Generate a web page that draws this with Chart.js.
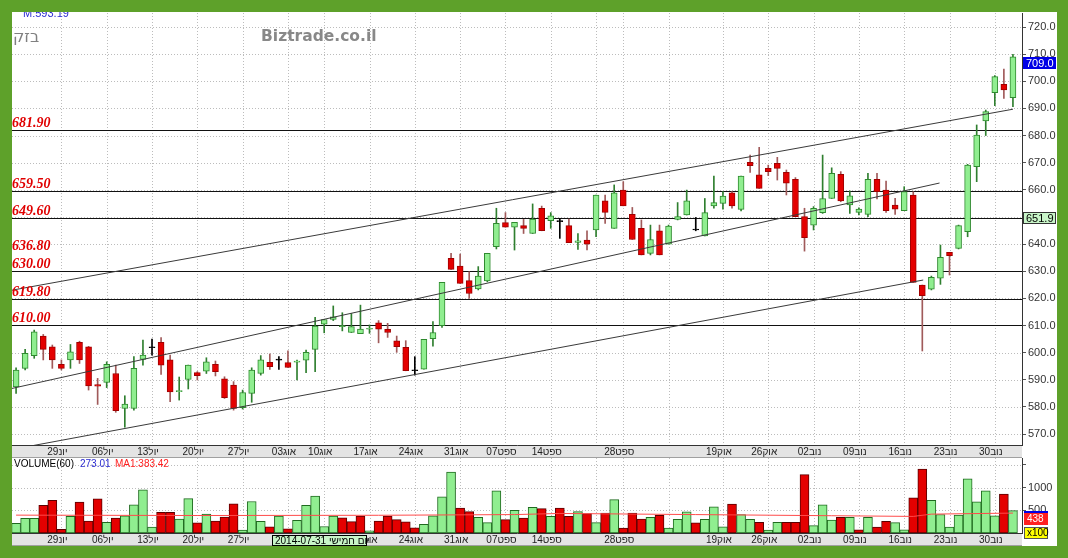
<!DOCTYPE html>
<html><head><meta charset="utf-8">
<script src="https://cdn.jsdelivr.net/npm/chart.js@4.4.1/dist/chart.umd.min.js"></script>
<style>
html,body{margin:0;padding:0;background:#5ea12a;width:1068px;height:558px;overflow:hidden}
#wrap{position:absolute;left:12px;top:12px;width:1045px;height:534px;background:#fff;overflow:hidden}
#pc{position:absolute;left:0;top:0}
#vc{position:absolute;left:0;top:446px}
</style></head><body>
<div id="wrap"><canvas id="pc" width="1045" height="446"></canvas><canvas id="vc" width="1045" height="88"></canvas></div>
<script>
const openP = [587.4,594.2,598.9,606.1,602.1,595.7,597.3,603.8,602.1,588.2,
589.0,592.3,579.4,579.4,597.5,601.8,603.8,597.3,585.6,590.1,
592.6,593.2,595.7,590.3,588.0,579.7,585.0,592.3,596.4,597.25,
596.3,596.5,597.25,601.2,610.5,612.2,609.6,607.4,607.0,608.6,
611.0,608.6,604.3,601.9,593.3,593.9,605.1,609.9,634.7,631.9,
626.5,623.5,626.4,639.0,647.9,646.2,646.8,643.9,653.2,648.6,
648.25,646.8,640.6,641.5,645.2,655.9,645.8,659.9,650.95,645.8,
636.6,644.9,640.0,649.1,650.7,645.2,643.0,654.1,655.0,658.9,
652.8,670.1,665.5,667.9,669.75,666.4,663.85,650.1,647.0,651.6,
656.8,665.7,654.4,651.7,650.95,663.85,659.9,654.4,652.3,658.1,
624.9,623.4,627.4,636.95,638.4,644.6,668.5,685.4,695.8,698.9,
693.96];
const highP = [594.4,601.2,608.3,606.7,602.8,597.3,603.0,604.2,602.3,590.5,
596.6,595.4,584.1,598.5,604.6,605.0,605.5,599.1,591.0,595.4,
593.0,598.1,596.9,591.1,589.3,586.2,594.4,598.9,599.5,598.5,
600.7,597.25,600.9,613.0,612.2,617.2,614.7,614.4,617.5,610.2,
611.8,610.8,606.1,604.4,598.5,604.9,611.4,625.9,636.6,636.3,
629.8,631.7,636.6,653.2,651.6,648.0,649.1,654.8,654.0,651.6,
649.5,649.2,643.9,644.9,658.1,658.1,661.8,663.0,653.5,648.9,
647.0,647.0,647.0,655.3,659.9,649.8,656.8,665.1,659.3,659.3,
665.1,672.8,675.65,669.1,671.97,667.3,664.5,653.2,653.8,672.8,
668.1,666.7,659.6,653.4,666.1,666.1,663.2,656.9,661.15,659.3,
624.9,628.2,639.65,636.95,647.0,669.4,683.9,689.4,702.1,704.5,
709.9];
const lowP = [585.0,593.6,597.9,597.3,594.2,593.6,594.2,596.0,586.2,580.9,
587.1,578.0,572.5,578.8,595.4,599.1,592.0,581.9,582.5,586.6,
589.9,592.3,591.4,583.1,578.8,579.2,581.7,591.7,593.8,593.8,
594.5,589.9,592.6,593.0,607.3,611.8,608.0,607.4,607.0,607.1,
603.6,605.6,600.1,593.3,591.7,593.9,602.4,609.3,630.7,625.5,
620.0,623.1,626.1,638.2,646.2,637.8,643.9,643.9,644.9,645.8,
642.1,640.5,638.0,637.8,642.7,647.6,645.8,654.1,641.7,636.0,
636.0,636.0,640.0,648.9,650.7,644.9,643.0,653.2,652.9,653.2,
652.2,666.4,660.5,665.2,663.6,658.1,650.1,637.4,645.2,651.3,
656.8,655.6,651.3,650.7,650.1,656.6,651.7,650.95,652.3,625.9,
600.6,623.1,625.15,628.6,638.2,642.7,663.0,680.0,691.0,693.7,
690.6];
const closeP = [593.6,599.7,607.7,601.2,597.3,594.2,600.3,597.3,587.7,587.6,
595.7,578.6,581.0,594.2,599.1,601.8,595.4,585.5,586.0,595.4,
591.5,596.6,593.0,583.4,579.4,585.3,593.6,597.3,594.8,597.25,
594.5,596.9,600.1,609.8,612.2,613.2,610.0,609.6,608.7,608.9,
608.6,607.4,602.2,593.3,593.3,604.9,607.4,625.9,630.7,625.5,
621.8,628.2,636.6,647.6,646.2,648.0,645.8,649.2,644.9,650.4,
648.25,640.5,641.2,640.0,658.1,651.7,658.9,654.1,641.7,636.0,
641.7,636.0,646.6,650.1,655.9,645.2,651.6,655.3,657.7,654.1,
665.1,668.9,660.5,666.7,667.9,662.4,650.1,642.35,653.2,656.8,
666.1,655.9,657.8,652.9,663.85,659.3,652.3,652.9,659.3,625.9,
620.97,627.7,635.1,635.7,646.8,669.1,680.2,688.8,701.7,696.8,
709.0];
const volumes = [214,321,321,607,721,79,364,678,264,750,
236,328,378,621,950,129,457,457,307,757,
221,414,264,350,643,64,693,257,136,371,
93,278,607,814,143,371,336,250,371,50,
264,371,293,243,114,193,378,793,1342,550,
471,343,228,928,293,500,328,564,536,364,
550,364,471,428,228,436,735,107,436,307,
343,386,107,300,464,221,300,578,136,635,
407,300,236,64,236,236,236,1285,164,621,
286,343,343,71,343,129,257,228,71,771,
1407,721,407,129,393,1192,685,928,378,857,
493];
const maIdx = [0, 20, 40, 55, 60, 75, 90, 99, 101, 110];
const maVal = [393, 385, 390, 405, 430, 405, 380, 365, 415, 438];
const tickIdx = [5,10,15,20,25,30,34,39,44,49,54,59,64,67,72,78,83,88,93,98,103,108];
const tickText = ['29יונ','06יול','13יול','20יול','27יול','03אוג','10אוג','17אוג','24אוג','31אוג','07ספט','14ספט','','28ספט','','19אוק','26אוק','02נוב','09נוב','16נוב','23נוב','30נוב'];
const levelLines = [681.9, 659.5, 649.6, 630.0, 619.8, 610.0];
const levelTags = [681.9, 659.5, 649.6, 636.8, 630.0, 619.8, 610.0];
const trendUpper = [[-0.45, 623.0], [110.0, 689.7]];
const trendMiddle = [[-0.45, 586.8], [101.9, 662.5]];
const trendLower = [[-0.45, 564.3], [100.1, 626.75]];
const lastPrice = 709.0, crossPrice = 651.9;
const lastVolume = 493, lastMA = 438;
const volTitle = 'VOLUME(60)', volCur = '273.01', volMA = 'MA1:383.42';
const crossDate = '2014-07-31 יום חמישי';
const stockName = 'בזק', siteName = 'Biztrade.co.il', mText = 'M:593.19';

const idx = openP.map((_, i) => i);
const dir = i => closeP[i] > openP[i] ? 1 : (closeP[i] < openP[i] ? -1 : 0);
const bodyFill = idx.map(i => dir(i) > 0 ? '#90ee90' : dir(i) < 0 ? '#e40000' : '#000000');
const bodyBorder = idx.map(i => dir(i) > 0 ? '#2f8a2f' : dir(i) < 0 ? '#a00000' : '#000000');
const wickCol = idx.map(i => dir(i) > 0 ? '#2f7f2f' : dir(i) < 0 ? '#a05a5a' : '#000000');
const volUp = idx.map(i => i === 0 || closeP[i] > closeP[i - 1]);

const xMin = -0.45, xMax = 111.0;
function xScaleOpts() {
  return {
    type: 'linear', min: xMin, max: xMax, offset: false,
    afterBuildTicks: s => { s.ticks = tickIdx.map(v => ({ value: v })); },
    afterFit: s => { s.height = 13; s.paddingLeft = 0; s.paddingRight = 0; },
    grid: { display: false, drawTicks: false, offset: false },
    border: { display: true, color: '#333', width: 1 },
    ticks: {
      autoSkip: false, maxRotation: 0, minRotation: 0, padding: 1, labelOffset: -4,
      font: { family: 'Liberation Sans', size: 10 }, color: '#222',
      callback: v => { const k = tickIdx.indexOf(v); return k >= 0 ? tickText[k] : ''; }
    }
  };
}
function drawStrip(chart) {
  const { ctx, chartArea: a } = chart;
  ctx.save();
  ctx.fillStyle = '#e4e4e4';
  ctx.fillRect(a.left, a.bottom, a.right - a.left, 13);
  ctx.strokeStyle = '#a0a0a0'; ctx.lineWidth = 1;
  ctx.beginPath(); ctx.moveTo(a.left, a.bottom + 12.5); ctx.lineTo(a.right, a.bottom + 12.5); ctx.stroke();
  ctx.restore();
}
function drawGrid(chart, yVals) {
  const { ctx, chartArea: a, scales: { x, y } } = chart;
  ctx.save();
  ctx.strokeStyle = '#bcbcbc'; ctx.lineWidth = 1; ctx.setLineDash([1, 2]);
  ctx.beginPath();
  yVals.forEach(v => { const p = Math.round(y.getPixelForValue(v)) + 0.5; ctx.moveTo(a.left, p); ctx.lineTo(a.right, p); });
  tickIdx.forEach(v => { const p = Math.round(x.getPixelForValue(v)) + 0.5; ctx.moveTo(p, a.top); ctx.lineTo(p, a.bottom); });
  ctx.stroke(); ctx.restore();
}
function box(ctx, x, y, w, h, fill, stroke, text, tcol, font) {
  ctx.fillStyle = fill; ctx.fillRect(x, y, w, h);
  if (stroke) { ctx.strokeStyle = stroke; ctx.lineWidth = 1; ctx.strokeRect(x + 0.5, y + 0.5, w - 1, h - 1); }
  ctx.fillStyle = tcol; ctx.font = font; ctx.textBaseline = 'middle'; ctx.textAlign = 'left';
  ctx.fillText(text, x + 3, y + h / 2 + 0.5);
}
const noPad = s => { s.width = 35; s.paddingTop = 0; s.paddingBottom = 0; };

const pricePlugin = {
  id: 'pricePlugin',
  beforeDraw(chart) { drawStrip(chart); },
  beforeDatasetsDraw(chart) {
    const { ctx, chartArea: a, scales: { y } } = chart;
    drawGrid(chart, y.ticks.map(t => t.value));
    ctx.save();
    ctx.strokeStyle = '#111'; ctx.lineWidth = 1;
    ctx.beginPath();
    levelLines.forEach(v => { const p = Math.round(y.getPixelForValue(v)) + 0.5; ctx.moveTo(a.left, p); ctx.lineTo(a.right, p); });
    ctx.stroke(); ctx.restore();
  },
  afterDatasetsDraw(chart) {
    const { ctx, chartArea: a, scales: { y } } = chart;
    ctx.save();
    ctx.font = 'italic bold 14px "Liberation Serif"';
    ctx.fillStyle = '#e00000'; ctx.textBaseline = 'alphabetic'; ctx.textAlign = 'left';
    levelTags.forEach(v => { ctx.fillText(v.toFixed(2), a.left, y.getPixelForValue(v) - 3); });
    ctx.restore();
  },
  afterDraw(chart) {
    const { ctx, chartArea: a, scales: { y } } = chart;
    ctx.save();
    ctx.textAlign = 'left'; ctx.textBaseline = 'alphabetic';
    ctx.font = '11px "Liberation Sans"'; ctx.fillStyle = '#2a2ad0';
    ctx.fillText(mText, 11, 4.5);
    ctx.font = '16px "DejaVu Sans"'; ctx.fillStyle = '#808080';
    ctx.fillText(stockName, 1, 30);
    ctx.font = 'bold 15.5px "DejaVu Sans"'; ctx.fillStyle = '#888888';
    ctx.fillText(siteName, 249, 29);
    box(ctx, a.right + 1, Math.round(y.getPixelForValue(crossPrice)), 33, 12, '#c8f5c8', '#333', crossPrice.toFixed(1), '#000', '11px "Liberation Sans"');
    box(ctx, a.right + 1, Math.round(y.getPixelForValue(lastPrice)), 33, 12, '#0000e6', null, lastPrice.toFixed(1), '#fff', '11px "Liberation Sans"');
    ctx.restore();
  }
};

new Chart(document.getElementById('pc'), {
  type: 'bar',
  data: {
    datasets: [
      { type: 'line', data: trendUpper.map(p => ({ x: p[0], y: p[1] })), borderColor: '#3a3a3a', borderWidth: 1, pointRadius: 0, fill: false, order: 0 },
      { type: 'line', data: trendMiddle.map(p => ({ x: p[0], y: p[1] })), borderColor: '#3a3a3a', borderWidth: 1, pointRadius: 0, fill: false, order: 0 },
      { type: 'line', data: trendLower.map(p => ({ x: p[0], y: p[1] })), borderColor: '#3a3a3a', borderWidth: 1, pointRadius: 0, fill: false, order: 0 },
      { data: idx.map(i => ({ x: i, y: [openP[i], closeP[i]] })), backgroundColor: bodyFill, borderColor: bodyBorder, borderWidth: 1, borderSkipped: false, barThickness: 6, minBarLength: 1, grouped: false, order: 1 },
      { data: idx.map(i => ({ x: i, y: [lowP[i], highP[i]] })), backgroundColor: wickCol, borderWidth: 0, barThickness: 1, grouped: false, order: 2 }
    ]
  },
  options: {
    responsive: false, animation: false, devicePixelRatio: 1,
    layout: { padding: { top: 1, left: 0, right: 0, bottom: 0 } },
    plugins: { legend: { display: false }, tooltip: { enabled: false } },
    scales: {
      x: xScaleOpts(),
      y: {
        position: 'right', min: 565.95, max: 725.16,
        afterFit: noPad,
        grid: { display: true, drawOnChartArea: false, drawTicks: true, tickLength: 4, tickColor: '#555', color: '#555' },
        border: { display: true, color: '#333', width: 1 },
        ticks: { stepSize: 10, includeBounds: false, padding: 2, color: '#333', font: { family: 'Liberation Sans', size: 11 }, callback: v => Number(v).toFixed(1) }
      }
    }
  },
  plugins: [pricePlugin]
});

const volPlugin = {
  id: 'volPlugin',
  beforeDraw(chart) { drawStrip(chart); },
  beforeDatasetsDraw(chart) { drawGrid(chart, [500, 1000, 1500]); },
  afterDraw(chart) {
    const { ctx, chartArea: a, scales: { y } } = chart;
    ctx.save();
    ctx.textAlign = 'left'; ctx.textBaseline = 'alphabetic';
    ctx.font = '10px "Liberation Sans"';
    ctx.fillStyle = '#000'; ctx.fillText(volTitle, 2, 9);
    ctx.fillStyle = '#2a2ad0'; ctx.fillText(volCur, 68, 9);
    ctx.fillStyle = '#ff2020'; ctx.fillText(volMA, 103, 9);
    box(ctx, a.right + 2, Math.round(y.getPixelForValue(lastVolume)), 24, 12, '#0000e6', null, '', '#fff', '10px "Liberation Sans"');
    box(ctx, a.right + 2, Math.round(y.getPixelForValue(lastMA)), 24, 12, '#ff2020', null, String(lastMA), '#fff', '10px "Liberation Sans"');
    box(ctx, a.right + 2, a.bottom - 6, 24, 12, '#ffff00', '#555', 'x100', '#000', '10px "Liberation Sans"');
    box(ctx, 260, a.bottom + 2, 95, 11, '#c8f5c8', '#000', crossDate, '#000', '10px "Liberation Sans"');
    ctx.restore();
  }
};

new Chart(document.getElementById('vc'), {
  type: 'bar',
  data: {
    datasets: [
      { type: 'line', data: maIdx.map((x, k) => ({ x: x, y: maVal[k] })), borderColor: '#ff4a4a', borderWidth: 1, pointRadius: 0, fill: false, order: 0 },
      { data: idx.map(i => ({ x: i, y: volumes[i] })), backgroundColor: idx.map(i => volUp[i] ? '#90ee90' : '#e40000'), borderColor: idx.map(i => volUp[i] ? '#1f6a1f' : '#5a0000'), borderWidth: 1, borderSkipped: false, barThickness: 9, grouped: false, order: 1 }
    ]
  },
  options: {
    responsive: false, animation: false, devicePixelRatio: 1,
    layout: { padding: 0 },
    plugins: { legend: { display: false }, tooltip: { enabled: false } },
    scales: {
      x: xScaleOpts(),
      y: {
        position: 'right', min: 0, max: 1650,
        afterFit: noPad,
        afterBuildTicks: s => { s.ticks = [{ value: 500 }, { value: 1000 }, { value: 1500 }]; },
        grid: { display: true, drawOnChartArea: false, drawTicks: true, tickLength: 4, tickColor: '#555', color: '#555' },
        border: { display: true, color: '#333', width: 1 },
        ticks: { padding: 2, color: '#333', font: { family: 'Liberation Sans', size: 11 }, callback: v => v === 1500 ? '' : String(v) }
      }
    }
  },
  plugins: [volPlugin]
});
</script>
</body></html>
